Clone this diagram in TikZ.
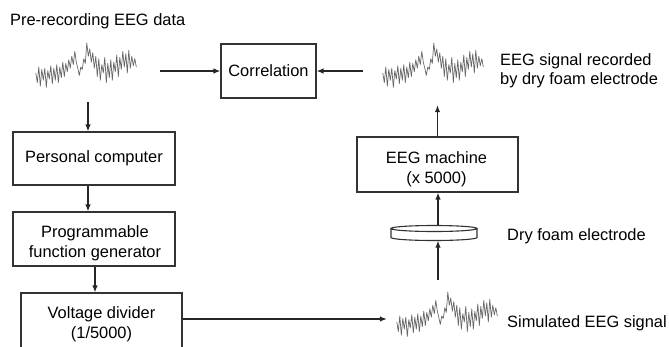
\documentclass[tikz,border=0pt]{standalone}
\usepackage{fontspec}
\setmainfont{Liberation Sans}
\usetikzlibrary{arrows.meta,calc}

\tikzset{
  eegwave/.pic={
    \draw[wave, xscale=1.5, yscale=-1.2] plot coordinates {
      (0,0) (1,-8) (2,5) (3,-11) (4,3) (5,-6) (6,4) (7,-12) (8,2) (9,-5)
      (10,6) (11,-9) (12,4) (13,-6) (14,7) (15,-8) (16,5) (17,-4) (18,9) (19,-3)
      (20,8) (21,1) (22,11) (23,4) (24,14) (25,7) (26,18) (27,9) (28,4) (29,-2)
      (30,5) (31,3) (32,12) (33,8) (34,25) (35,14) (36,20) (37,9) (38,17) (39,4)
      (40,14) (41,-3) (42,12) (43,-6) (44,7) (45,0) (46,13) (47,-8) (48,8) (49,-4)
      (50,11) (51,-6) (52,9) (53,1) (54,15) (55,-3) (56,13) (57,3) (58,18) (59,5)
      (60,16) (61,0) (62,19) (63,4) (64,14) (65,6) (66,12) (67,5)};
  }
}

\begin{document}
\begin{tikzpicture}[x=1pt, y=-1pt,
  font=\fontsize{16.4}{19.5}\selectfont,
  box/.style={draw=black!80, line width=1.1pt, align=center, inner sep=0pt},
  txt/.style={inner sep=0pt, align=center},
  arr/.style={draw=black!85, line width=1.2pt, -{Latex[length=7pt,width=5.5pt]}},
  sig/.style={inner sep=0pt, minimum width=102pt, minimum height=48pt},
  wave/.style={draw=black!60, line width=0.7pt, line join=round},
  lbl/.style={inner sep=0pt, align=left}
]
\useasboundingbox (0,0) rectangle (669,346);

% processing blocks
\node[box, minimum width=95pt,  minimum height=54pt] (corr) at (268.5,71)  {Correlation};
\node[box, minimum width=162pt, minimum height=53pt] (pc)   at (94,158.5)  {Personal computer};
\node[box, minimum width=162pt, minimum height=54pt] (pfg)  at (94,239)    {};
\node[box, minimum width=161pt, minimum height=62pt] (vd)   at (101.5,324) {};
\node[box, minimum width=161pt, minimum height=55pt] (eeg)  at (437.5,164.5) {};
\node[txt] (pfgtxt) at ($(pfg.center)+(1,4.5)$) {Programmable\\function generator};
\node[txt] (vdtxt)  at ($(vd.center)+(0,0)$)    {Voltage divider\\(1/5000)};
\node[txt] (eegtxt) at ($(eeg.center)+(-1,5)$)  {EEG machine\\(x 5000)};

% signal traces
\node[sig] (sigA) at (87,67) {};
\node[sig] (sigB) at (433,67) {};
\node[sig] (sigC) at (447,316) {};
\pic at ($(sigA.west)+(0,6)$) {eegwave};
\pic at ($(sigB.west)+(1,6)$) {eegwave};
\pic at ($(sigC.west)+(1,6)$) {eegwave};

% dry foam electrode (flat disc)
\node[inner sep=0pt, minimum width=86pt, minimum height=15pt] (elec) at (434,233) {};
\draw[box] ($(elec.center)+(0,-4.5)$) ellipse [x radius=43, y radius=3];
\draw[box] ($(elec.center)+(-43,-4.5)$) -- ++(0,9)
  arc[start angle=180, end angle=0, x radius=43, y radius=3] -- ++(0,-9);

% labels
\node[lbl, anchor=base west] (tpre) at (10,25) {Pre-recording EEG data};
\node[lbl, anchor=west] (trec) at (500,70.7) {EEG signal recorded\\by dry foam electrode};
\node[lbl, anchor=base west] (tdry) at (507,240) {Dry foam electrode};
\node[lbl, anchor=base west] (tsim) at (507,327) {Simulated EEG signal};

% connectors
\draw[arr] ($(sigA.east)+(22,4)$) -- (corr.west);
\draw[arr] ($(sigB.west)+(-19,4)$) -- (corr.east);
\draw[arr] ($(pc.north)+(-6,-29)$) -- ($(pc.north)+(-6,0)$);
\draw[arr] ($(pc.south)+(-6,0)$) -- ($(pfg.north)+(-6,0)$);
\draw[arr] ($(pfg.south)+(1,0)$) -- ($(vd.north)+(-6.5,0)$);
\draw[arr] ($(vd.east)+(0,-5)$) -- ($(sigC.west)+(-9,3)$);
\draw[arr] ($(sigC.north)+(-9,-12)$) -- ($(elec.south)+(4,0)$);
\draw[arr] ($(elec.north)+(4,0)$) -- ($(eeg.south)+(0.5,0)$);
\draw[arr] (eeg.north) -- ($(sigB.south)+(4.5,14)$);
\end{tikzpicture}
\end{document}
